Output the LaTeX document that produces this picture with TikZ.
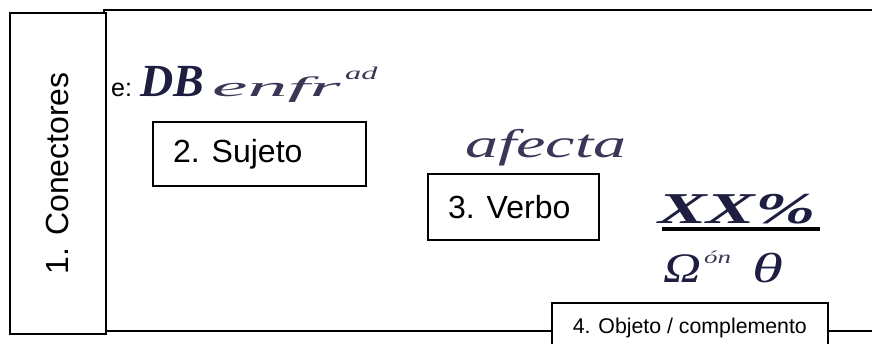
\documentclass[tikz,border=0pt]{standalone}
\usepackage{fontspec}
\setmainfont{Liberation Sans}
\newfontfamily\eqfont{Liberation Serif}
\definecolor{eqdark}{HTML}{1E1E40}
\definecolor{eqmid}{HTML}{3E3556}
\begin{document}
\begin{tikzpicture}[x=1pt,y=-1pt,
  frame/.style={draw=black,line width=1.6pt},
  boxst/.style={frame,fill=white,inner sep=0pt,anchor=north west},
  lbl/.style={font=\fontsize{32}{36}\selectfont,inner sep=0pt},
  small/.style={font=\fontsize{21.3}{24}\selectfont,inner sep=0pt},
  eqd/.style={text=eqdark,inner sep=0pt,anchor=base west},
  eqm/.style={text=eqmid,inner sep=0pt,anchor=base west},
  fracbar/.style={draw=black,line width=4pt}]
\useasboundingbox (0,0) rectangle (872,344);
\fill[white] (0,0) rectangle (872,344);
% outer frame
\coordinate (ftl) at (104,10);
\coordinate (ftr) at (873,10);
\coordinate (fbl) at (104,331);
\coordinate (fbr) at (873,331);
\draw[frame] (ftr) -- (ftl) -- (fbl) -- (fbr);
% 1. Conectores
\node[boxst,minimum width=96pt,minimum height=321pt] (con) at (9,12) {};
\node[lbl,rotate=90] (contxt) at (con.center) {1. Conectores};
% e: DB enfr^ad
\node[font=\fontsize{25}{28}\selectfont,inner sep=0pt,anchor=base west] (e) at (111,97) {e:};
\node[eqd,font=\eqfont\bfseries\itshape\fontsize{46}{50}\selectfont] (db) at (140,97) {DB};
\node[eqm,font=\eqfont\itshape\fontsize{28}{32}\selectfont] (enf) at (212,97) {\scalebox{2.85}[1]{enfr}};
\node[eqm,font=\eqfont\itshape\fontsize{18}{20}\selectfont] (ad) at (345,80) {\scalebox{1.8}[1]{ad}};
% 2. Sujeto
\node[boxst,minimum width=213pt,minimum height=64pt] (suj) at (152,121) {};
\node[lbl,anchor=west] (sujtxt) at ([xshift=21pt]suj.west) {2. Sujeto};
% afecta
\node[eqm,font=\eqfont\itshape\fontsize{40}{44}\selectfont] (afecta) at (465,158) {\scalebox{1.65}[1]{afecta}};
% 3. Verbo
\node[boxst,minimum width=171pt,minimum height=66pt] (verbo) at (427,173) {};
\node[lbl,anchor=west] (verbotxt) at ([xshift=21pt]verbo.west) {3. Verbo};
% XX% / Omega theta
\node[eqd,font=\eqfont\bfseries\itshape\fontsize{44}{50}\selectfont] (xx) at (658,224) {\scalebox{1.65}[1]{XX\%}};
\coordinate (barL) at (662,229);
\coordinate (barR) at (820,229);
\draw[fracbar] (barL) -- (barR);
\node[eqd,font=\eqfont\itshape\fontsize{42}{46}\selectfont] (om) at (663,283) {\scalebox{1.25}[1]{Ω}};
\node[eqm,font=\eqfont\itshape\fontsize{18}{20}\selectfont] (on) at (704,264) {\scalebox{1.5}[1]{ón}};
\node[eqd,font=\eqfont\itshape\fontsize{42}{46}\selectfont] (th) at (752,283) {\scalebox{1.5}[1]{θ}};
% 4. Objeto / complemento
\node[boxst,minimum width=276pt,minimum height=46pt] (obj) at (551,302) {};
\node[small] (objtxt) at ([yshift=-2pt]obj.center) {4. Objeto / complemento};
\end{tikzpicture}
\end{document}
